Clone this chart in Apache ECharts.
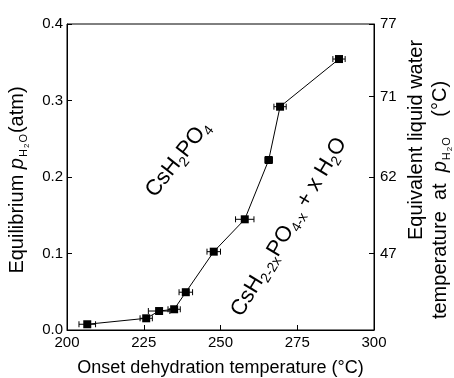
<!DOCTYPE html>
<html>
<head>
<meta charset="utf-8">
<script src="https://cdn.jsdelivr.net/npm/echarts@6/dist/echarts.min.js"></script>
<style>
  html, body { margin: 0; padding: 0; background: #fff; }
  #container { width: 454px; height: 378px; }
</style>
</head>
<body>
<div id="container"></div>
<script>
var dom = document.getElementById('container');
var myChart = echarts.init(dom);

// onset dehydration temperature (C) and equilibrium p(H2O) (atm)
var temps = [206.6, 225.8, 230.0, 234.9, 238.7, 247.8, 257.9, 265.7, 269.4, 288.6];
var pressures = [0.0075, 0.0153, 0.0248, 0.0271, 0.0494, 0.1024, 0.1447, 0.2222, 0.2919, 0.3542];
var tempErr = [2.7, 2.0, 3.5, 2.0, 2.2, 2.2, 3.0, 1.2, 2.0, 2.0];

// right axis: equivalent liquid water temperature, placed on the pressure scale
var waterTickPos = [0.1, 0.2, 0.305, 0.4];
var waterTickLabels = ['47', '62', '71', '77'];

var FONT = 'Liberation Sans';

var lineData = temps.map(function (t, i) { return [t, pressures[i]]; });
var errData = temps.map(function (t, i) { return [t, pressures[i], tempErr[i]]; });

var subStyles = {
    p: { fontSize: 20, fontStyle: 'italic', fontFamily: FONT },
    s: { fontSize: 11, fontFamily: FONT, padding: [14, 1, 0, 1] },
    ss: { fontSize: 8, fontFamily: FONT, padding: [19, 0, 0, 0] },
    gap: { fontSize: 20, fontFamily: FONT, width: 14 }
};

option = {
    animation: false,
    textStyle: { fontFamily: FONT },
    grid: {
        left: 67, right: 80, top: 24, bottom: 48,
        outerBoundsMode: 'none',
        show: true, borderColor: '#000', borderWidth: 1
    },
    xAxis: {
        type: 'value',
        min: 200, max: 300, interval: 25,
        axisLine: { lineStyle: { color: '#000' } },
        axisTick: { inside: true, length: 5, lineStyle: { color: '#000' } },
        axisLabel: { color: '#000', fontSize: 15, margin: 5, fontFamily: FONT },
        splitLine: { show: false },
        name: 'Onset dehydration temperature (\u00b0C)',
        nameLocation: 'middle',
        nameGap: 29,
        nameTextStyle: { color: '#000', fontSize: 18, fontFamily: FONT }
    },
    yAxis: [{
        type: 'value',
        min: 0, max: 0.4, interval: 0.1,
        axisLine: { show: true, lineStyle: { color: '#000' } },
        axisTick: { show: true, inside: true, length: 5, lineStyle: { color: '#000' } },
        axisLabel: {
            color: '#000', fontSize: 15, margin: 4, fontFamily: FONT,
            padding: [0, 0, 4, 0],
            formatter: function (v) { return v.toFixed(1); }
        },
        splitLine: { show: false }
    }, {
        type: 'value',
        position: 'right',
        min: 0, max: 0.4,
        axisLine: { show: true, lineStyle: { color: '#000' } },
        axisTick: { show: true, inside: true, length: 5, customValues: waterTickPos, lineStyle: { color: '#000' } },
        axisLabel: {
            color: '#000', fontSize: 15, margin: 6, fontFamily: FONT,
            customValues: waterTickPos,
            formatter: function (v) {
                var i = waterTickPos.indexOf(v);
                return i >= 0 ? waterTickLabels[i] : '';
            }
        },
        splitLine: { show: false }
    }],
    graphic: [{
        type: 'text',
        x: 17, y: 180,
        rotation: Math.PI / 2,
        style: {
            text: 'Equilibrium {p|p}{s|H}{ss|2}{s|O}(atm)',
            fontSize: 20, fontFamily: FONT, fill: '#000',
            align: 'center', verticalAlign: 'middle',
            rich: subStyles
        }
    }, {
        type: 'text',
        x: 416, y: 140,
        rotation: Math.PI / 2,
        style: {
            text: 'Equivalent liquid water',
            fontSize: 20, fontFamily: FONT, fill: '#000',
            align: 'center', verticalAlign: 'middle'
        }
    }, {
        type: 'text',
        x: 440, y: 200,
        rotation: Math.PI / 2,
        style: {
            text: 'temperature  at  {p|p}{s|H}{ss|2}{s|O}{gap|} (\u00b0C)',
            fontSize: 20, fontFamily: FONT, fill: '#000',
            align: 'center', verticalAlign: 'middle',
            rich: subStyles
        }
    }, {
        type: 'text',
        x: 178, y: 159,
        rotation: 52 * Math.PI / 180,
        style: {
            text: 'CsH{s|2}PO{s|4}',
            fontSize: 22, fontFamily: FONT, fill: '#000',
            align: 'center', verticalAlign: 'middle',
            rich: {
                s: { fontSize: 14, fontFamily: FONT, padding: [14, 0, 0, 0] }
            }
        }
    }, {
        type: 'text',
        x: 289, y: 227,
        rotation: 59 * Math.PI / 180,
        style: {
            text: 'CsH{s|2-2x}PO{s|4-x} + x H{s|2}O',
            fontSize: 22, fontFamily: FONT, fill: '#000',
            align: 'center', verticalAlign: 'middle',
            rich: {
                s: { fontSize: 14, fontFamily: FONT, padding: [14, 0, 0, 0] }
            }
        }
    }],
    series: [{
        type: 'custom',
        z: 1,
        data: errData,
        renderItem: function (params, api) {
            var t = api.value(0), p = api.value(1), e = api.value(2);
            var a = api.coord([t - e, p]);
            var b = api.coord([t + e, p]);
            var h = 3;
            var st = { stroke: '#000', lineWidth: 1 };
            return {
                type: 'group',
                children: [
                    { type: 'line', shape: { x1: a[0], y1: a[1], x2: b[0], y2: b[1] }, style: st },
                    { type: 'line', shape: { x1: a[0], y1: a[1] - h, x2: a[0], y2: a[1] + h }, style: st },
                    { type: 'line', shape: { x1: b[0], y1: b[1] - h, x2: b[0], y2: b[1] + h }, style: st }
                ]
            };
        }
    }, {
        type: 'line',
        z: 2,
        data: lineData,
        symbol: 'rect',
        symbolSize: 8,
        itemStyle: { color: '#000' },
        lineStyle: { color: '#000', width: 1 }
    }]
};
myChart.setOption(option);

window.addEventListener("resize", function () {
    myChart.resize();
});
</script>
</body>
</html>
